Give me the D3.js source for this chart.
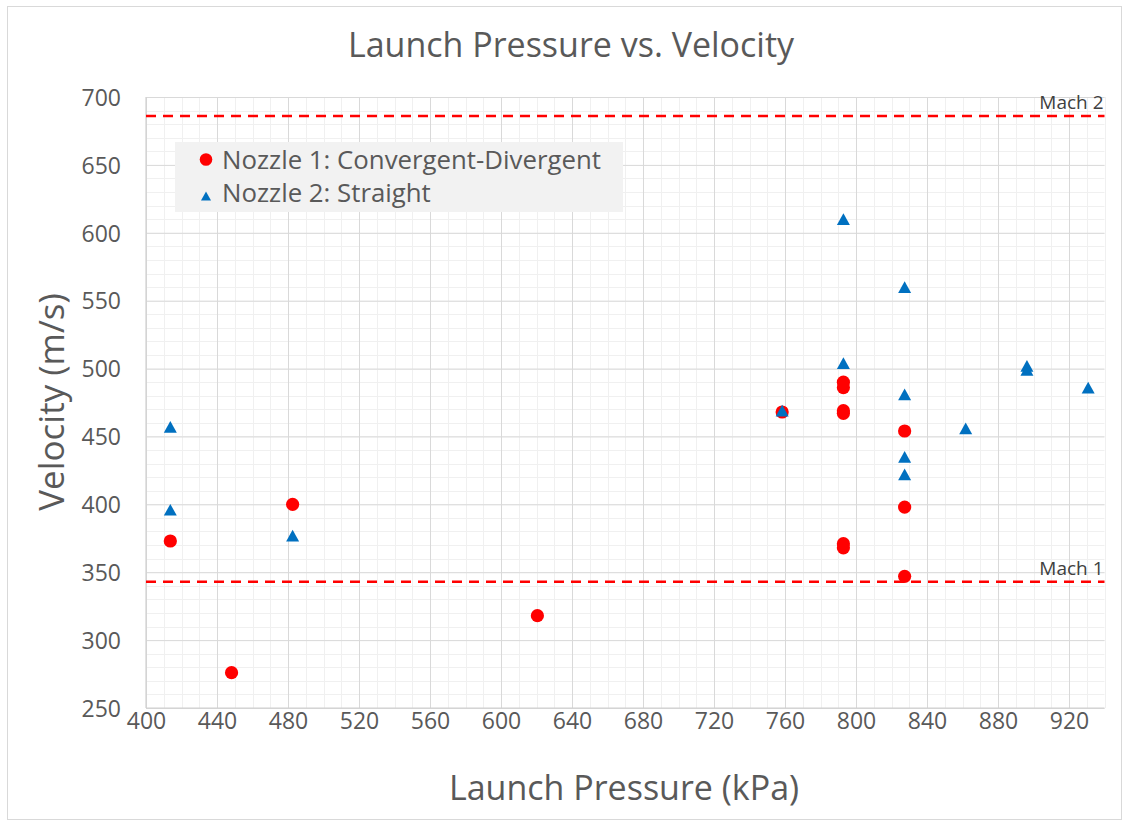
<!DOCTYPE html>
<html>
<head>
<meta charset="utf-8">
<script src="https://cdn.jsdelivr.net/npm/d3@7"></script>
<style>
  html, body { margin: 0; padding: 0; background: #fff; }
  svg { display: block; font-family: "Open Sans", "Noto Sans", sans-serif; }
</style>
</head>
<body>
<svg id="chart" width="1129" height="826"></svg>
<script>
// ---------- data ----------
const chartTitle = "Launch Pressure vs. Velocity";
const xTitle = "Launch Pressure (kPa)";
const yTitle = "Velocity (m/s)";
const seriesNames = ["Nozzle 1: Convergent-Divergent", "Nozzle 2: Straight"];

const nozzle1Pressure = [413.7, 448.2, 482.6, 620.5, 758.4, 792.9, 792.9, 792.9, 792.9, 792.9, 792.9, 827.4, 827.4, 827.4];
const nozzle1Velocity = [373, 276, 400, 318, 468, 490, 486, 469, 467, 371, 368, 454, 398, 347];

const nozzle2Pressure = [413.7, 413.7, 482.6, 758.4, 792.9, 792.9, 827.4, 827.4, 827.4, 827.4, 861.8, 896.3, 896.3, 930.8];
const nozzle2Velocity = [457, 396, 377, 469, 610, 504, 560, 481, 435, 422, 456, 502, 499, 486];

const machLabels = ["Mach 1", "Mach 2"];
const machValues = [343, 686];

const xTickValues = [400, 440, 480, 520, 560, 600, 640, 680, 720, 760, 800, 840, 880, 920];
const yTickValues = [250, 300, 350, 400, 450, 500, 550, 600, 650, 700];
const xDomain = [400, 940];
const yDomain = [250, 700];

// ---------- layout ----------
const svg = d3.select("#chart");
const plot = { left: 146, right: 1104.5, top: 97, bottom: 708 };
const textColor = "#595959";
const red = "#ff0000";
const blue = "#0070c0";

const x = d3.scaleLinear().domain(xDomain).range([plot.left, plot.right]);
const y = d3.scaleLinear().domain(yDomain).range([plot.bottom, plot.top]);

// outer chart border
svg.append("rect")
  .attr("x", 7.5).attr("y", 6.5).attr("width", 1114).attr("height", 813)
  .attr("fill", "#fff").attr("stroke", "#d9d9d9").attr("stroke-width", 1);

// minor gridlines
const gMinor = svg.append("g");
d3.range(xDomain[0], xDomain[1] + 0.001, 10).forEach(v => {
  gMinor.append("line")
    .attr("x1", Math.round(x(v)) + 0.5).attr("x2", Math.round(x(v)) + 0.5)
    .attr("y1", plot.top).attr("y2", plot.bottom)
    .attr("stroke", "#f0f0f0").attr("stroke-width", 1);
});
d3.range(yDomain[0], yDomain[1] + 0.001, 10).forEach(v => {
  gMinor.append("line")
    .attr("x1", plot.left).attr("x2", plot.right)
    .attr("y1", Math.round(y(v)) + 0.5).attr("y2", Math.round(y(v)) + 0.5)
    .attr("stroke", "#f0f0f0").attr("stroke-width", 1);
});

// major gridlines via axes
const xGrid = d3.axisBottom(x).tickValues(xTickValues).tickSize(-(plot.bottom - plot.top)).tickFormat("");
svg.append("g").attr("transform", `translate(0,${plot.bottom})`).call(xGrid)
  .call(g => g.select(".domain").remove())
  .call(g => g.selectAll("line").attr("stroke", "#d9d9d9"));
const yGrid = d3.axisLeft(y).tickValues(yTickValues).tickSize(-(plot.right - plot.left)).tickFormat("");
svg.append("g").attr("transform", `translate(${plot.left},0)`).call(yGrid)
  .call(g => g.select(".domain").remove())
  .call(g => g.selectAll("line").attr("stroke", "#d9d9d9"));

// axis lines
svg.append("line").attr("x1", plot.left).attr("x2", plot.left).attr("y1", plot.top).attr("y2", plot.bottom)
  .attr("stroke", "#d0d0d0").attr("stroke-width", 1.2);
svg.append("line").attr("x1", plot.left).attr("x2", plot.right).attr("y1", plot.bottom).attr("y2", plot.bottom)
  .attr("stroke", "#d0d0d0").attr("stroke-width", 1.2);

// tick labels
const xAxis = d3.axisBottom(x).tickValues(xTickValues).tickSize(0).tickPadding(0).tickFormat(d3.format("d"));
svg.append("g").attr("transform", `translate(0,${plot.bottom})`).call(xAxis)
  .call(g => g.select(".domain").remove())
  .call(g => g.selectAll("text").attr("y", 20.5).attr("dy", 0)
    .attr("fill", textColor).attr("font-size", 23).attr("font-family", '"Open Sans", sans-serif'));
const yAxis = d3.axisLeft(y).tickValues(yTickValues).tickSize(0).tickPadding(0).tickFormat(d3.format("d"));
svg.append("g").attr("transform", `translate(${plot.left},0)`).call(yAxis)
  .call(g => g.select(".domain").remove())
  .call(g => g.selectAll("text").attr("x", -25).attr("dy", "0.36em")
    .attr("fill", textColor).attr("font-size", 23).attr("font-family", '"Open Sans", sans-serif'));

// Mach reference lines
machValues.forEach((v, i) => {
  svg.append("line")
    .attr("x1", plot.left).attr("x2", plot.right)
    .attr("y1", y(v)).attr("y2", y(v))
    .attr("stroke", red).attr("stroke-width", 2.6).attr("stroke-dasharray", "10,7");
  svg.append("text")
    .attr("x", plot.right - 1).attr("y", y(v) - 7)
    .attr("text-anchor", "end").attr("fill", "#404040").attr("font-size", 19)
    .text(machLabels[i]);
});

// triangle symbol (apex up, bbox-centred)
const triangleType = {
  draw(ctx, size) {
    const w = Math.sqrt(size), h = w * 0.9;
    ctx.moveTo(0, -h / 2);
    ctx.lineTo(w / 2, h / 2);
    ctx.lineTo(-w / 2, h / 2);
    ctx.closePath();
  }
};

// series 1: circles
svg.append("g").selectAll("circle")
  .data(nozzle1Pressure.map((p, i) => [p, nozzle1Velocity[i]]))
  .join("circle")
  .attr("cx", d => x(d[0])).attr("cy", d => y(d[1]))
  .attr("r", 6.6).attr("fill", red);

// series 2: triangles
svg.append("g").selectAll("path")
  .data(nozzle2Pressure.map((p, i) => [p, nozzle2Velocity[i]]))
  .join("path")
  .attr("transform", d => `translate(${x(d[0])},${y(d[1])})`)
  .attr("d", d3.symbol().type(triangleType).size(13 * 13))
  .attr("fill", blue);

// legend
const lg = svg.append("g");
lg.append("rect").attr("x", 175).attr("y", 142).attr("width", 448).attr("height", 70).attr("fill", "#f2f2f2");
lg.append("circle").attr("cx", 206).attr("cy", 159.5).attr("r", 6.3).attr("fill", red);
lg.append("path").attr("transform", "translate(206,196)")
  .attr("d", d3.symbol().type(triangleType).size(10 * 10)).attr("fill", blue);
lg.append("text").attr("x", 222).attr("y", 168.5).attr("fill", textColor).attr("font-size", 25.8).text(seriesNames[0]);
lg.append("text").attr("x", 222).attr("y", 201.5).attr("fill", textColor).attr("font-size", 25.8).text(seriesNames[1]);

// titles
svg.append("text").attr("x", 571).attr("y", 57).attr("text-anchor", "middle")
  .attr("fill", textColor).attr("font-size", 34).text(chartTitle);
svg.append("text").attr("x", 624).attr("y", 800).attr("text-anchor", "middle")
  .attr("fill", textColor).attr("font-size", 34).text(xTitle);
svg.append("text").attr("transform", "translate(64,402) rotate(-90)").attr("text-anchor", "middle")
  .attr("fill", textColor).attr("font-size", 35).text(yTitle);
</script>
</body>
</html>
